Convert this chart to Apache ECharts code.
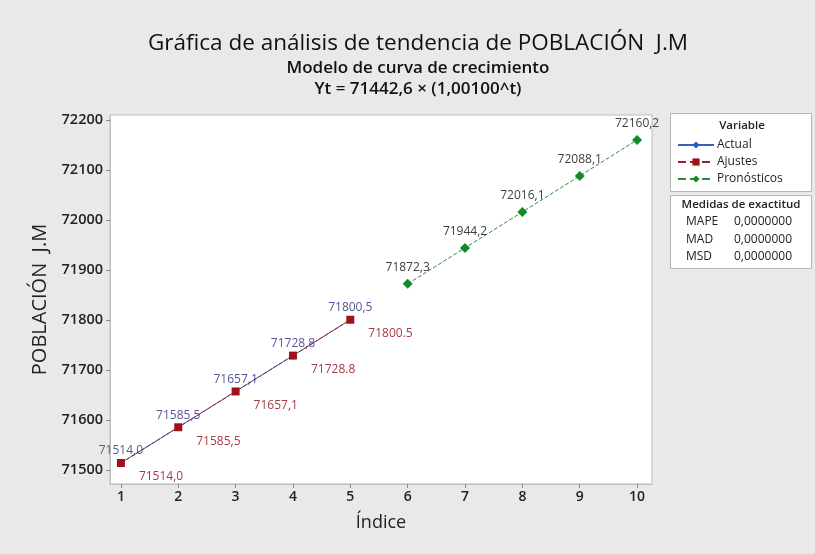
<!DOCTYPE html>
<html>
<head>
<meta charset="utf-8">
<script src="https://cdn.jsdelivr.net/npm/echarts@6/dist/echarts.min.js"></script>
<style>
  html, body { margin: 0; padding: 0; background: #e9e9e9; }
  #chart { width: 815px; height: 554px; }
</style>
</head>
<body>
<div id="chart"></div>
<script>
// datos
const actualIdx = [1, 2, 3, 4, 5]
const actualValues = [71514.0, 71585.5, 71657.1, 71728.8, 71800.5]
const fitValues = [71514.0, 71585.5, 71657.1, 71728.8, 71800.5]
const fitLabels = ['71514,0', '71585,5', '71657,1', '71728.8', '71800.5']
const forecastIdx = [6, 7, 8, 9, 10]
const forecastValues = [71872.3, 71944.2, 72016.1, 72088.1, 72160.2]
const xTicks = [1, 2, 3, 4, 5, 6, 7, 8, 9, 10]
const yTicks = [71500, 71600, 71700, 71800, 71900, 72000, 72100, 72200]
const accuracyNames = ['MAPE', 'MAD', 'MSD']
const accuracyValues = ['0,0000000', '0,0000000', '0,0000000']

const FONT = '"Open Sans", "Noto Sans", sans-serif'
const comma = v => v.toFixed(1).replace('.', ',')
const pairs = (xs, ys) => xs.map((x, i) => [x, ys[i]])

const chart = echarts.init(document.getElementById('chart'))

// cuadro de medidas de exactitud
const accuracyGraphics = [
  {
    type: 'rect', left: 670, top: 195, z: 10,
    shape: { width: 141, height: 73 },
    style: { fill: '#fff', stroke: '#b5b5b5', lineWidth: 1 }
  },
  {
    type: 'text', x: 741, y: 205, z: 11,
    style: { text: 'Medidas de exactitud', font: '600 11.5px ' + FONT, fill: '#222', align: 'center', verticalAlign: 'middle' }
  }
]
accuracyNames.forEach((name, i) => {
  accuracyGraphics.push({
    type: 'text', x: 686, y: 222 + i * 17.5, z: 11,
    style: { text: name, font: '12px ' + FONT, fill: '#222', verticalAlign: 'middle' }
  })
  accuracyGraphics.push({
    type: 'text', x: 734, y: 222 + i * 17.5, z: 11,
    style: { text: accuracyValues[i], font: '12px ' + FONT, fill: '#222', verticalAlign: 'middle' }
  })
})

const option = {
  backgroundColor: '#e9e9e9',
  animation: false,
  textStyle: { fontFamily: FONT },
  graphic: [
    {
      type: 'text', x: 418, y: 44,
      style: { text: 'Gráfica de análisis de tendencia de POBLACIÓN  J.M', font: '22.5px ' + FONT, fill: '#111', align: 'center', verticalAlign: 'middle' }
    },
    {
      type: 'text', x: 418, y: 68,
      style: { text: 'Modelo de curva de crecimiento', font: '600 17px ' + FONT, fill: '#111', align: 'center', verticalAlign: 'middle' }
    },
    {
      type: 'text', x: 418, y: 89,
      style: { text: 'Yt = 71442,6 × (1,00100^t)', font: '600 17px ' + FONT, fill: '#111', align: 'center', verticalAlign: 'middle' }
    },
    // cuadro de la leyenda
    {
      type: 'rect', left: 670, top: 113, z: 0,
      shape: { width: 141, height: 78 },
      style: { fill: '#fff', stroke: '#b5b5b5', lineWidth: 1 }
    },
    {
      type: 'text', x: 742, y: 126, z: 11,
      style: { text: 'Variable', font: '600 11.5px ' + FONT, fill: '#222', align: 'center', verticalAlign: 'middle' }
    },
    ...accuracyGraphics
  ],
  legend: {
    orient: 'vertical',
    left: 672,
    top: 134,
    itemWidth: 36,
    itemHeight: 9,
    itemGap: 5,
    textStyle: { fontSize: 12, color: '#222', fontFamily: FONT, padding: [0, 0, 0, -2] },
    data: ['Actual', 'Ajustes', 'Pronósticos']
  },
  grid: {
    left: 110,
    right: 163,
    top: 115,
    bottom: 70,
    show: true,
    backgroundColor: '#fff',
    borderColor: '#bdbdbd',
    borderWidth: 1
  },
  xAxis: {
    type: 'value',
    min: 0.81,
    max: 10.26,
    name: 'Índice',
    nameLocation: 'middle',
    nameGap: 30,
    nameTextStyle: { fontSize: 18, color: '#222' },
    axisLine: { show: true, lineStyle: { color: '#bdbdbd' } },
    axisTick: { show: true, customValues: xTicks, length: 4, lineStyle: { color: '#888' } },
    axisLabel: { customValues: xTicks, fontSize: 14, fontWeight: 600, color: '#222', margin: 6, formatter: v => String(v) },
    splitLine: { show: false }
  },
  yAxis: {
    type: 'value',
    min: 71472,
    max: 72210,
    name: 'POBLACIÓN  J.M',
    nameLocation: 'middle',
    nameGap: 57,
    nameTextStyle: { fontSize: 20, color: '#222' },
    axisLine: { show: true, lineStyle: { color: '#bdbdbd' } },
    axisTick: { show: true, customValues: yTicks, length: 4, lineStyle: { color: '#888' } },
    axisLabel: { customValues: yTicks, fontSize: 14.5, fontWeight: 600, color: '#222', margin: 7, formatter: v => String(v) },
    splitLine: { show: false }
  },
  series: [
    {
      name: 'Actual',
      type: 'line',
      data: pairs(actualIdx, actualValues),
      symbol: 'diamond',
      symbolSize: 6,
      lineStyle: { color: '#3a5fb5', width: 1 },
      itemStyle: { color: '#1f5fc8' },
      label: {
        show: true,
        position: 'top',
        distance: 3,
        fontSize: 12,
        color: '#55579a',
        formatter: p => comma(p.value[1])
      },
      z: 3
    },
    {
      name: 'Ajustes',
      type: 'line',
      data: pairs(actualIdx, fitValues),
      symbol: 'rect',
      symbolSize: 8,
      lineStyle: { color: '#9a2030', width: 1, type: 'dashed' },
      itemStyle: { color: '#a0121b' },
      label: {
        show: true,
        position: 'right',
        distance: 14,
        offset: [0, 14],
        fontSize: 12,
        color: '#a83a45',
        formatter: p => fitLabels[p.dataIndex]
      },
      z: 4
    },
    {
      name: 'Pronósticos',
      type: 'line',
      data: pairs(forecastIdx, forecastValues),
      symbol: 'diamond',
      symbolSize: 10,
      lineStyle: { color: '#2e8a3e', width: 1, type: 'dashed' },
      itemStyle: { color: '#138a2a' },
      label: {
        show: true,
        position: 'top',
        distance: 5,
        fontSize: 12,
        color: '#404040',
        formatter: p => comma(p.value[1])
      },
      z: 4
    }
  ]
}

chart.setOption(option)
</script>
</body>
</html>
